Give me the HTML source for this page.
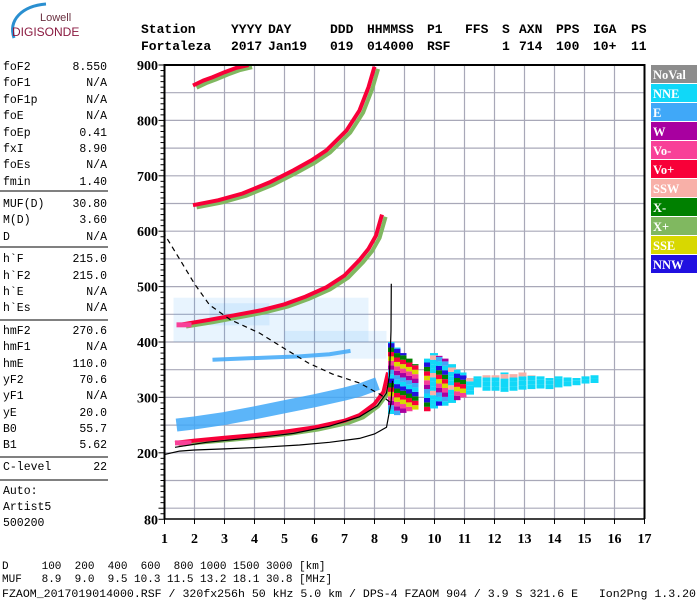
<!DOCTYPE html>
<html><head><meta charset="utf-8">
<style>
html,body{margin:0;padding:0;background:#fff;}
svg{display:block;}
.mono{font-family:"Liberation Mono",monospace;}
.serif{font-family:"Liberation Serif",serif;font-weight:bold;}
</style></head>
<body>
<svg id="chart" width="700" height="600" viewBox="0 0 700 600" xmlns="http://www.w3.org/2000/svg">
  <defs><clipPath id="plotclip"><rect x="165" y="66" width="480" height="453"/></clipPath></defs>
  <g>
    <path d="M14,38 C8,20 22,6 46,4" fill="none" stroke="#2a8fd0" stroke-width="3"/>
    <text x="40" y="21" font-family="Liberation Sans,sans-serif" font-size="11" fill="#6a3040">Lowell</text>
    <text x="12" y="36" font-family="Liberation Sans,sans-serif" font-size="12" fill="#8a1a40">DIGISONDE</text>
  </g>
  <g id="header" class="mono" font-size="13" font-weight="bold"></g>
  <g id="params" class="mono" font-size="11.5"></g>
  <g id="grid"></g>
  <g id="marks" clip-path="url(#plotclip)"></g>
  <g id="axes"></g>
  <g id="legend"></g>
  <g class="mono" font-size="11">
    <text x="2" y="569" xml:space="preserve">D     100  200  400  600  800 1000 1500 3000 [km]</text>
    <text x="2" y="582" xml:space="preserve">MUF   8.9  9.0  9.5 10.3 11.5 13.2 18.1 30.8 [MHz]</text>
    <text x="2" y="597" xml:space="preserve" textLength="694" lengthAdjust="spacingAndGlyphs">FZAOM_2017019014000.RSF / 320fx256h 50 kHz 5.0 km / DPS-4 FZAOM 904 / 3.9 S 321.6 E   Ion2Png 1.3.20</text>
  </g>
</svg>
<script>
const NS="http://www.w3.org/2000/svg";
// ---- data ----
const xTicks=[1,2,3,4,5,6,7,8,9,10,11,12,13,14,15,16,17];
const yTicks=[900,800,700,600,500,400,300,200,80];
const legendLabels=["NoVal","NNE","E","W","Vo-","Vo+","SSW","X-","X+","SSE","NNW"];
const legendColors=["#8c8c8c","#10d8f8","#40a8f8","#a800a0","#f84098","#f80038","#f8b0a8","#008000","#80b860","#d8d800","#2010e0"];
// O-mode traces (Vo+)
const oHop1F=[1.35,2,3,4,5,6,7,7.5,8,8.3,8.45];
const oHop1H=[218,222,227,232,238,246,258,268,288,310,345];
const oHop2F=[1.6,2.5,3.5,4.2,5,5.7,6.4,7,7.5,7.8,8.05,8.25];
const oHop2H=[432,440,450,457,468,482,499,520,548,568,592,630];
const oHop3F=[1.95,2.8,3.6,4.5,5.3,5.9,6.4,7.07,7.5,7.8,8.0];
const oHop3H=[647,656,668,688,710,728,746,782,818,860,897];
const oHop4F=[1.95,2.3,2.6,3.0,3.4,3.8];
const oHop4H=[863,872,878,887,895,900];
// E-layer blue band
const eBandF=[1.4,2,3,4,5,6,7,7.5,8.1];
const eBandH=[250,254,262,272,283,294,306,313,325];
const e2BandF=[2.6,3.5,4.5,5.5,6.5,7.2];
const e2BandH=[368,370,372,374,378,384];
// model profiles
const prof1F=[1,1.5,2,3,4.2,5.5,6.5,7.5,8.0,8.4,8.55,8.6];
const prof1H=[197,203,205,207,210,214,219,226,234,246,290,330];
const prof2F=[1.35,2.4,3.5,4.5,5.3,6.5,7.5,8.1,8.4,8.5,8.55,8.56];
const prof2H=[210,219,225,230,235,248,265,285,308,340,420,505];
const dashF=[0.95,1.07,1.5,2,2.5,3.2,4.17,5,5.8,6.6,7.5,8.2,8.5];
const dashH=[600,588,550,505,467,440,416,388,362,342,326,305,292];
// spread-F cloud columns: freq, low height, high height, palette mode
const cloudF=[8.55,8.75,8.95,9.15,9.35,9.75,9.95,10.15,10.35,10.55,10.75,10.95,11.15,11.4,11.7,12.0,12.3,12.6,12.9,13.2,13.5,13.8,14.1,14.4,14.7,15.0,15.3];
const cloudLo=[270,268,272,275,278,275,280,285,285,290,295,300,305,318,312,312,310,312,314,315,316,315,318,320,322,325,326];
const cloudHi=[400,390,380,370,360,370,380,375,370,360,350,345,335,338,340,340,345,342,345,340,338,335,338,336,335,338,340];
const cloudCol=[5,3,2,4,3,3,1,2,3,1,2,4,1,1,1,1,1,1,1,1,1,1,1,1,1,1,1];
// ---- axis functions ----
const fx=f=>164.5+(f-1)*30;
const hy=h=>65+(900-h)*0.554;
function el(tag,attrs,parent){const e=document.createElementNS(NS,tag);for(const k in attrs)e.setAttribute(k,attrs[k]);parent.appendChild(e);return e;}
function txt(s,x,y,parent,extra){const t=el("text",Object.assign({x:x,y:y},extra||{}),parent);t.textContent=s;return t;}

// header
const header=document.getElementById("header");
const h1=[["Station",141],["YYYY",231],["DAY",268],["DDD",330],["HHMMSS",367],["P1",427],["FFS",465],["S",502],["AXN",519],["PPS",556],["IGA",593],["PS",631]];
const h2=[["Fortaleza",141],["2017",231],["Jan19",268],["019",330],["014000",367],["RSF",427],["1",502],["714",519],["100",556],["10+",593],["11",631]];
h1.forEach(w=>{const t=txt(w[0],w[1],33,header);

});
h2.forEach(w=>{const t=txt(w[0],w[1],50,header);

});

// params
const params=document.getElementById("params");
const rows=[["foF2","8.550",70],["foF1","N/A",86],["foF1p","N/A",103],["foE","N/A",119],["foEp","0.41",136],["fxI","8.90",152],["foEs","N/A",168],["fmin","1.40",185],
["MUF(D)","30.80",207],["M(D)","3.60",223],["D","N/A",240],
["h`F","215.0",262],["h`F2","215.0",279],["h`E","N/A",295],["h`Es","N/A",311],
["hmF2","270.6",334],["hmF1","N/A",350],["hmE","110.0",367],["yF2","70.6",383],["yF1","N/A",399],["yE","20.0",416],["B0","55.7",432],["B1","5.62",448],
["C-level","22",470]];
rows.forEach(r=>{const a=txt(r[0],3,r[2],params);


const b=txt(r[1],107,r[2],params,{"text-anchor":"end"});

});
[["Auto:",494],["Artist5",510],["500200",526]].forEach(r=>{const a=txt(r[0],3,r[1],params);

});
[191,247,320,457,480].forEach(y=>{const l=el("line",{x1:0,x2:108,y1:y,y2:y,stroke:"#000","stroke-width":1},params);

});

// grid
const grid=document.getElementById("grid");
for(let f=2;f<=16;f++){const l=el("line",{x1:fx(f),x2:fx(f),y1:65,y2:519,stroke:"#a8a8b8","stroke-width":1.2},grid);

}
for(let h=100;h<=850;h+=50){const l=el("line",{x1:fx(1),x2:fx(17),y1:hy(h),y2:hy(h),stroke:"#a8a8b8","stroke-width":1.2},grid);

}

// marks
const marks=document.getElementById("marks");
function poly(F,H,attrs,name){const pts=F.map((f,i)=>fx(f).toFixed(1)+","+hy(H[i]).toFixed(1)).join(" ");
const p=el("polyline",Object.assign({points:pts,fill:"none"},attrs),marks);

return p;}
// blue scatter regions (E echoes)
[[1.3,7.8,400,480],[2.5,4.5,430,470],[5,8.4,370,420]].forEach(r=>{const b=el("rect",{x:fx(r[0]),y:hy(r[3]),width:fx(r[1])-fx(r[0]),height:hy(r[2])-hy(r[3]),fill:"#40a8f8",opacity:0.12},marks);

});
poly(eBandF,eBandH,{stroke:"#40a8f8","stroke-width":13,opacity:0.85},"e-band");
poly(e2BandF,e2BandH,{stroke:"#40a8f8","stroke-width":4,opacity:0.85},"e-band-upper");
// X traces (offset green)
[[oHop1F,oHop1H],[oHop2F,oHop2H],[oHop3F,oHop3H],[oHop4F,oHop4H]].forEach((t,i)=>{
poly(t[0].map(f=>f+0.12),t[1].map(h=>h-4),{stroke:"#80b860","stroke-width":4},"x-trace-hop"+(i+1));});
[[oHop1F,oHop1H],[oHop2F,oHop2H],[oHop3F,oHop3H],[oHop4F,oHop4H]].forEach((t,i)=>{
poly(t[0],t[1],{stroke:"#f80038","stroke-width":4},"o-trace-hop"+(i+1));});
// start pink segments
[[1.35,1.9,218],[1.4,1.9,431]].forEach(s=>{const l=el("line",{x1:fx(s[0]),x2:fx(s[1]),y1:hy(s[2]),y2:hy(s[2]),stroke:"#f84098","stroke-width":5},marks);

});
// cloud
const cycle=[1,2,3,4,9,5,7,10];
cloudF.forEach((f,i)=>{const lo=cloudLo[i],hi=cloudHi[i];const step=8;
for(let h=lo,k=0;h<hi;h+=step,k++){const c=cloudCol[i]===1?(k%4===3?6:1):cycle[(i+k)%cycle.length];
const r=el("rect",{x:fx(f)-3,y:hy(Math.min(h+step,hi)),width:cloudCol[i]===1?8:6.5,height:hy(h)-hy(Math.min(h+step,hi)),fill:legendColors[c]},marks);

}});
poly(prof1F,prof1H,{stroke:"#000","stroke-width":1.2},"profile-lower");
poly(prof2F,prof2H,{stroke:"#000","stroke-width":1.2},"profile-upper");
poly(dashF,dashH,{stroke:"#000","stroke-width":1.2,"stroke-dasharray":"5,4"},"model-dashed-curve");

// axes
const axes=document.getElementById("axes");
el("polyline",{points:`${fx(1)},519 ${fx(1)},65 ${fx(17)},65 ${fx(17)},519`,fill:"none",stroke:"#000","stroke-width":2},axes);
el("line",{x1:fx(1),x2:fx(17),y1:519,y2:519,stroke:"#000","stroke-width":1.5},axes);
for(let h=80;h<=900;h+=10){const big=(h%100===0)||h===80;const l=el("line",{x1:fx(1)-(big?6:4),x2:fx(1),y1:hy(h),y2:hy(h),stroke:"#000","stroke-width":1},axes);

}
yTicks.forEach(h=>{const t=txt(String(h),158,hy(h)+5,axes,{"text-anchor":"end","class":"serif","font-size":"14"});

});
xTicks.forEach(f=>{const l=el("line",{x1:fx(f),x2:fx(f),y1:519,y2:524,stroke:"#000","stroke-width":1},axes);


const t=txt(String(f),fx(f),543,axes,{"text-anchor":"middle","class":"serif","font-size":"14"});

});

// legend
const legend=document.getElementById("legend");
legendLabels.forEach((lab,i)=>{const y=65+i*19;
const r=el("rect",{x:651,y:y,width:46,height:18,fill:legendColors[i]},legend);


const t=txt(lab,653,y+14,legend,{"class":"serif","font-size":"12.5",fill:"#fff"});

});
</script>
</body></html>
